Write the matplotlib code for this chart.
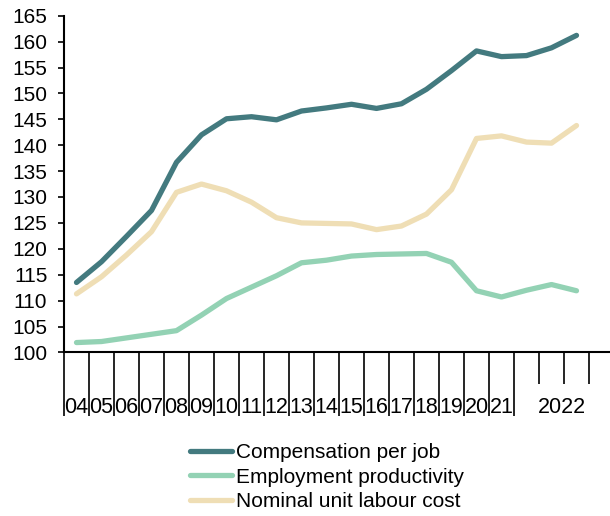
import numpy as np
import matplotlib
matplotlib.use("Agg")
import matplotlib.pyplot as plt

plt.rcParams['font.family'] = ['Liberation Sans', 'DejaVu Sans']

# x categories: annual 2004-2021, then quarters of 2022
year_labels = ['04', '05', '06', '07', '08', '09', '10', '11', '12',
               '13', '14', '15', '16', '17', '18', '19', '20', '21']
quarter_group = '2022'
n_quarters = 4

compensation = [113.5, 117.5, 122.4, 127.4, 136.7, 142.0, 145.1, 145.5, 144.9,
                146.6, 147.2, 147.9, 147.1, 148.0, 150.8, 154.4, 158.2, 157.1,
                157.3, 158.8, 161.2]
productivity = [101.9, 102.1, 102.8, 103.5, 104.2, 107.2, 110.4, 112.6, 114.8,
                117.3, 117.8, 118.6, 118.9, 119.0, 119.1, 117.4, 111.9, 110.7,
                112.0, 113.1, 111.9]
unit_labour_cost = [111.3, 114.6, 118.8, 123.3, 130.9, 132.5, 131.2, 129.0, 126.0,
                    125.0, 124.9, 124.8, 123.7, 124.4, 126.7, 131.4, 141.3, 141.8,
                    140.6, 140.4, 143.8]

series = [
    ("Compensation per job", compensation, "#437a7f"),
    ("Employment productivity", productivity, "#93d2b4"),
    ("Nominal unit labour cost", unit_labour_cost, "#efdeb5"),
]

n_cat = len(year_labels) + n_quarters

fig = plt.figure(figsize=(6.1, 5.16), dpi=100)
ax = fig.add_axes([64 / 610, 1 - 352.4 / 516, 550 / 610, 336.7 / 516])

x = np.arange(len(compensation)) + 0.5
for name, vals, col in series:
    ax.plot(x, vals, color=col, lw=3.8, solid_capstyle='round', label=name)

ax.set_xlim(0, n_cat)
ax.set_ylim(100, 165)
ax.set_yticks(np.arange(100, 166, 5))
ax.tick_params(axis='y', labelsize=15, length=4, width=1.2, direction='out', pad=8)

# long ticks at year boundaries, short ticks between quarters
ax.set_xticks(list(range(len(year_labels) + 1)))
ax.set_xticks(list(range(len(year_labels) + 1, n_cat)), minor=True)
ax.set_xticklabels([])
ax.tick_params(axis='x', which='major', length=46, width=1.2, direction='out')
ax.tick_params(axis='x', which='minor', length=23, width=1.2, direction='out')

lab_y = -60.3 / 336.7
for i, lab in enumerate(year_labels):
    ax.text(i + 0.5, lab_y, lab, transform=ax.get_xaxis_transform(),
            ha='center', va='baseline', fontsize=15.5)
ax.text(len(year_labels) + n_quarters / 2 - 0.1, lab_y, quarter_group,
        transform=ax.get_xaxis_transform(), ha='center', va='baseline', fontsize=15.5)

for s in ['top', 'right']:
    ax.spines[s].set_visible(False)
for s in ['left', 'bottom']:
    ax.spines[s].set_linewidth(1.5)

ax.legend(loc='upper left', bbox_to_anchor=(190 / 610, 1 - 443 / 516),
          bbox_transform=fig.transFigure, frameon=False, fontsize=15,
          borderpad=0, borderaxespad=0, handlelength=2.0, handletextpad=0.2,
          labelspacing=0.27)

fig.savefig("out.png", dpi=100)
